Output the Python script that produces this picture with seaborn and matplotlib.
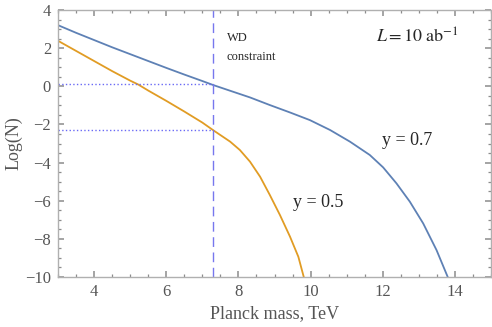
import matplotlib
matplotlib.use("Agg")
import matplotlib.pyplot as plt
import numpy as np
import pandas as pd
import seaborn as sns
from matplotlib.ticker import MultipleLocator

# curves: Planck mass (TeV) vs Log(N)
mass_07 = [3.0, 3.5, 4.0, 4.5, 5.0, 5.5, 6.0, 6.5, 7.0, 7.3, 7.77, 8.32,
           8.87, 9.43, 9.98, 10.54, 11.09, 11.64, 12.01, 12.38, 12.75,
           13.12, 13.49, 13.8]
logn_07 = [3.21, 2.81, 2.43, 2.05, 1.69, 1.33, 0.97, 0.62, 0.28, 0.07, -0.23,
           -0.58, -0.98, -1.37, -1.77, -2.29, -2.90, -3.60, -4.25, -5.09,
           -6.05, -7.19, -8.59, -10.0]

mass_05 = [3.0, 3.5, 4.0, 4.5, 5.0, 5.22, 5.5, 6.0, 6.5, 7.0, 7.3, 7.77,
           8.04, 8.32, 8.60, 8.87, 9.15, 9.43, 9.66, 9.81]
logn_05 = [2.39, 1.86, 1.33, 0.80, 0.30, 0.10, -0.22, -0.76, -1.32, -1.90,
           -2.30, -2.90, -3.34, -3.95, -4.74, -5.70, -6.75, -7.89, -8.94, -10.0]

wd_mass = 7.3
wd_levels = [0.1, -2.3]

labels = ["y = 0.7", "y = 0.5"]
colors = {"y = 0.7": "#5E81B5", "y = 0.5": "#E19C24"}


def main():
    sns.set_theme(style="ticks")
    plt.rcParams["font.family"] = ["Liberation Serif", "DejaVu Serif"]
    plt.rcParams["mathtext.fontset"] = "stix"

    data = pd.concat([
        pd.DataFrame({"mass": mass_07, "logn": logn_07, "curve": labels[0]}),
        pd.DataFrame({"mass": mass_05, "logn": logn_05, "curve": labels[1]}),
    ])

    fig = plt.figure(figsize=(4.92, 3.27), dpi=100)
    ax = fig.add_axes([0.118, 0.153, 0.880, 0.816])

    sns.lineplot(data=data, x="mass", y="logn", hue="curve", palette=colors,
                 linewidth=1.3, legend=False, ax=ax, sort=False)

    # WD constraint line and the dotted guides
    ax.axvline(wd_mass, color="#7777ee", linestyle=(0, (7, 4)), linewidth=1.0)
    for lev in wd_levels:
        ax.plot([3, wd_mass], [lev, lev], color="#6a6af5", linestyle=":",
                linewidth=1.0)

    ax.set_xlim(3, 15)
    ax.set_ylim(-10, 4)

    ax.xaxis.set_major_locator(MultipleLocator(2))
    ax.xaxis.set_minor_locator(MultipleLocator(0.5))
    ax.yaxis.set_major_locator(MultipleLocator(2))
    ax.yaxis.set_minor_locator(MultipleLocator(0.5))

    # frame ticks on all four sides, pointing in
    ax.tick_params(which="both", direction="in", top=True, right=True,
                   color="#8c8c8c", labelcolor="#555555", labelsize=12)
    ax.tick_params(which="major", length=4.5, width=1.1, pad=5)
    ax.tick_params(which="minor", length=2.5, width=0.9)
    for sp in ax.spines.values():
        sp.set_color("#b0b0b0")
        sp.set_linewidth(1.0)

    ax.set_xlabel("Planck mass, TeV", fontsize=13, color="#555555", labelpad=4)
    ax.set_ylabel("Log(N)", fontsize=13, color="#555555", labelpad=2)

    ax.text(7.68, 2.55, "WD", fontsize=9, va="center", ha="left")
    ax.text(7.68, 1.54, "constraint", fontsize=9, va="center", ha="left")
    ax.text(11.81, 2.58, r"$L = 10\;\mathrm{ab}^{-1}$", fontsize=13,
            va="center", ha="left")
    ax.text(11.97, -2.82, "y = 0.7", fontsize=13, va="center", ha="left")
    ax.text(9.51, -6.07, "y = 0.5", fontsize=13, va="center", ha="left")

    fig.savefig("out.png", dpi=100)


if __name__ == "__main__":
    main()
